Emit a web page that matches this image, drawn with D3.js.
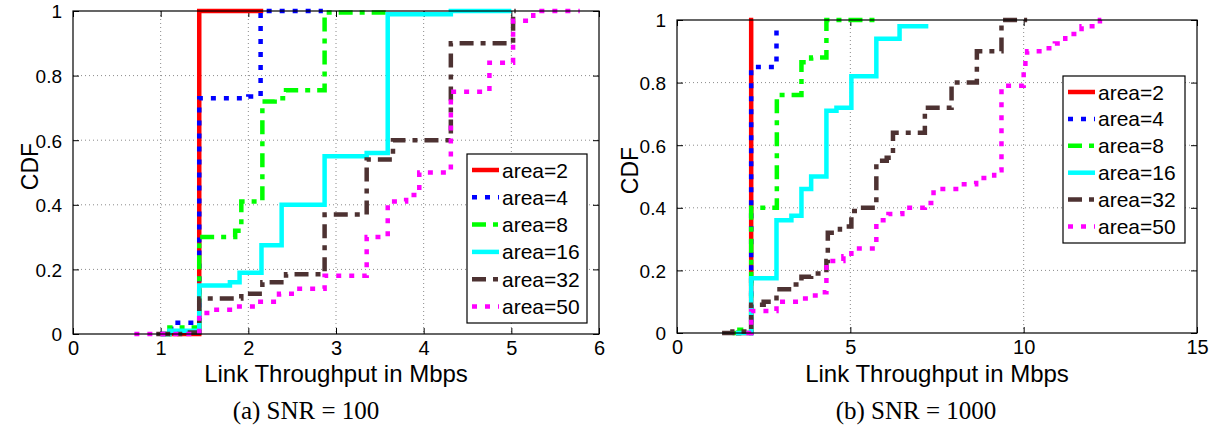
<!DOCTYPE html>
<html lang="en">
    <head>
        <meta charset="utf-8">
        <title>Link Throughput CDF</title>
        <script type="text/javascript" src="https://cdn.jsdelivr.net/npm/d3@7/dist/d3.min.js"></script>
        <style type="text/css">
          body { margin: 0; background: #fff; }
          text { font-family: "Liberation Sans", Arial, sans-serif; fill: #000; }
          .caption { font-family: "Liberation Serif", "Times New Roman", serif; }
        </style>
    </head>
    <body>
        <script type="text/javascript">

          // legend labels + tick values
          var labels = ["area=2", "area=4", "area=8", "area=16", "area=32", "area=50"];
          var yTicks = [0, 0.2, 0.4, 0.6, 0.8, 1];
          var xTicksA = [0, 1, 2, 3, 4, 5, 6];
          var xTicksB = [0, 5, 10, 15];

          // (a) SNR = 100 -- [throughput, cdf] step points
          var snr100Area2 = [[1.1,0],[1.44,1],[2.17,1]];
          var snr100Area4 = [[1.0,0],[1.12,0.035],[1.44,0.73],[2.0,0.735],[2.14,1],[2.85,1]];
          var snr100Area8 = [[1.05,0],[1.1,0.02],[1.44,0.3],[1.85,0.32],[1.92,0.41],[2.16,0.72],[2.3,0.73],[2.43,0.755],[2.87,0.995],[3.6,0.995]];
          var snr100Area16 = [[1.05,0],[1.1,0.01],[1.44,0.15],[1.79,0.16],[1.9,0.19],[2.15,0.275],[2.38,0.4],[2.87,0.55],[3.35,0.56],[3.59,0.99],[4.31,1],[5.0,1]];
          var snr100Area32 = [[0.95,0],[1.3,0.005],[1.44,0.11],[1.92,0.125],[2.16,0.16],[2.43,0.185],[2.87,0.37],[3.35,0.54],[3.65,0.6],[4.31,0.9],[5.02,1],[5.05,1]];
          var snr100Area50 = [[0.7,0],[1.44,0.065],[1.6,0.075],[1.85,0.085],[2.1,0.1],[2.35,0.125],[2.55,0.14],[2.87,0.18],[3.35,0.3],[3.59,0.41],[3.8,0.43],[3.95,0.5],[4.31,0.75],[4.75,0.84],[5.02,0.97],[5.25,1],[5.78,1]];

          // (b) SNR = 1000
          var snr1000Area2 = [[1.7,0],[2.14,1],[2.2,1]];
          var snr1000Area4 = [[1.7,0],[2.14,0.85],[2.87,0.98]];
          var snr1000Area8 = [[1.6,0],[1.8,0.01],[2.14,0.4],[2.88,0.76],[3.59,0.865],[3.87,0.88],[4.31,1],[5.75,1]];
          var snr1000Area16 = [[1.7,0],[2.14,0.175],[2.87,0.36],[3.3,0.375],[3.59,0.46],[3.87,0.5],[4.31,0.71],[4.6,0.72],[5.03,0.82],[5.75,0.94],[6.42,0.98],[7.25,0.98]];
          var snr1000Area32 = [[1.3,0],[1.6,0.005],[2.14,0.09],[2.5,0.1],[2.87,0.14],[3.3,0.155],[3.59,0.18],[3.87,0.19],[4.31,0.23],[4.35,0.32],[4.7,0.34],[5.03,0.39],[5.3,0.4],[5.75,0.55],[6.05,0.56],[6.23,0.64],[7.15,0.72],[7.92,0.8],[8.65,0.9],[9.36,1],[10.1,1]];
          var snr1000Area50 = [[2.0,0],[2.14,0.07],[2.87,0.1],[3.59,0.11],[3.87,0.12],[4.1,0.13],[4.31,0.23],[4.8,0.245],[5.03,0.27],[5.75,0.36],[6.1,0.38],[6.5,0.4],[7.15,0.415],[7.4,0.46],[8.15,0.475],[8.63,0.495],[9.15,0.52],[9.36,0.79],[10.0,0.84],[10.05,0.87],[10.1,0.9],[10.56,0.91],[10.9,0.925],[11.2,0.955],[11.67,0.98],[12.2,1],[12.4,1]];

          var colors = ["#ff0000", "#0000ff", "#00ff00", "#00ffff", "#4d3232", "#ff00ff"];
          var dashes = [null, "5,8", "14,7,5,7", null, "14,7,5,7", "5,8"];

          var panels = [
            {series: [snr100Area2, snr100Area4, snr100Area8, snr100Area16, snr100Area32, snr100Area50],
             xTicks: xTicksA, left: 73, right: 599, top: 11, bottom: 334,
             legend: {x: 467, y: 154, w: 120, h: 169, step: 27.3},
             cdfX: 38, caption: "(a) SNR = 100", capX: 306},
            {series: [snr1000Area2, snr1000Area4, snr1000Area8, snr1000Area16, snr1000Area32, snr1000Area50],
             xTicks: xTicksB, left: 677, right: 1197, top: 20, bottom: 333,
             legend: {x: 1063, y: 76, w: 122, h: 167, step: 26.9},
             cdfX: 638, caption: "(b) SNR = 1000", capX: 916}
          ];

          var w = 1217, h = 427;
          var svg = d3.select("body").append("svg")
                      .attr("width", w)
                      .attr("height", h);

          panels.forEach(function(p){
            var xScale = d3.scaleLinear()
                           .domain([p.xTicks[0], p.xTicks[p.xTicks.length-1]])
                           .range([p.left, p.right]);
            var yScale = d3.scaleLinear()
                           .domain([0, 1])
                           .range([p.bottom, p.top]);

            var g = svg.append("g");

            // dotted grid
            g.selectAll(".gx").data(p.xTicks.slice(1, -1)).enter()
             .append("line")
             .attr("x1", d => xScale(d)).attr("x2", d => xScale(d))
             .attr("y1", p.top).attr("y2", p.bottom)
             .attr("stroke", "#8a8a8a").attr("stroke-dasharray", "1,3");
            g.selectAll(".gy").data(yTicks.slice(1, -1)).enter()
             .append("line")
             .attr("y1", d => yScale(d)).attr("y2", d => yScale(d))
             .attr("x1", p.left).attr("x2", p.right)
             .attr("stroke", "#8a8a8a").attr("stroke-dasharray", "1,3");

            // axes, ticks point inward like matlab
            var fmt = d => d3.format("~g")(d);
            var xAxis = d3.axisBottom(xScale).tickValues(p.xTicks).tickSizeInner(-6).tickSizeOuter(0).tickPadding(7).tickFormat(fmt);
            var xTop = d3.axisTop(xScale).tickValues(p.xTicks).tickSizeInner(-6).tickSizeOuter(0).tickFormat("");
            var yAxis = d3.axisLeft(yScale).tickValues(yTicks).tickSizeInner(-6).tickSizeOuter(0).tickPadding(11).tickFormat(fmt);
            var yRight = d3.axisRight(yScale).tickValues(yTicks).tickSizeInner(-6).tickSizeOuter(0).tickFormat("");

            var ax = g.append("g").attr("transform", "translate(0," + p.bottom + ")").call(xAxis);
            g.append("g").attr("transform", "translate(0," + p.top + ")").call(xTop);
            var ay = g.append("g").attr("transform", "translate(" + p.left + ",0)").call(yAxis);
            g.append("g").attr("transform", "translate(" + p.right + ",0)").call(yRight);

            g.selectAll(".domain").remove();
            g.selectAll(".tick line").attr("stroke", "#000");
            ax.selectAll("text").style("font-size", "20px").attr("font-family", null);
            ay.selectAll("text").style("font-size", "19px").attr("font-family", null).attr("dy", "0.36em");

            // curves
            var line = d3.line()
                         .x(d => xScale(d[0]))
                         .y(d => yScale(d[1]))
                         .curve(d3.curveStepAfter);

            p.series.forEach(function(s, i){
              g.append("path")
               .datum(s)
               .attr("d", line)
               .attr("fill", "none")
               .attr("stroke", colors[i])
               .attr("stroke-width", 4.5)
               .attr("stroke-dasharray", dashes[i]);
            });

            // frame
            g.append("rect")
             .attr("x", p.left).attr("y", p.top)
             .attr("width", p.right - p.left).attr("height", p.bottom - p.top)
             .attr("fill", "none").attr("stroke", "#000").attr("stroke-width", 1.2);

            // legend
            var L = p.legend;
            var lg = g.append("g");
            lg.append("rect")
              .attr("x", L.x).attr("y", L.y).attr("width", L.w).attr("height", L.h)
              .attr("fill", "#fff").attr("stroke", "#000").attr("stroke-width", 1.2);
            labels.forEach(function(lab, i){
              var ly = L.y + 16 + i * L.step;
              lg.append("line")
                .attr("x1", L.x + 5).attr("x2", L.x + 32)
                .attr("y1", ly).attr("y2", ly)
                .attr("stroke", colors[i]).attr("stroke-width", 4.5)
                .attr("stroke-dasharray", dashes[i]);
              lg.append("text")
                .attr("x", L.x + 35).attr("y", ly + 7.5)
                .style("font-size", "21px")
                .text(lab);
            });

            // labels
            g.append("text")
             .attr("x", (p.left + p.right) / 2)
             .attr("y", 382)
             .attr("text-anchor", "middle")
             .style("font-size", "24px")
             .text("Link Throughput in Mbps");

            g.append("text")
             .attr("transform", "translate(" + p.cdfX + "," + ((p.top + p.bottom) / 2 - 6) + ") rotate(-90)")
             .attr("text-anchor", "middle")
             .style("font-size", "23px")
             .text("CDF");

            g.append("text")
             .attr("class", "caption")
             .attr("x", p.capX)
             .attr("y", 419)
             .attr("text-anchor", "middle")
             .style("font-size", "25px")
             .text(p.caption);
          });

        </script>
    </body>
</html>
